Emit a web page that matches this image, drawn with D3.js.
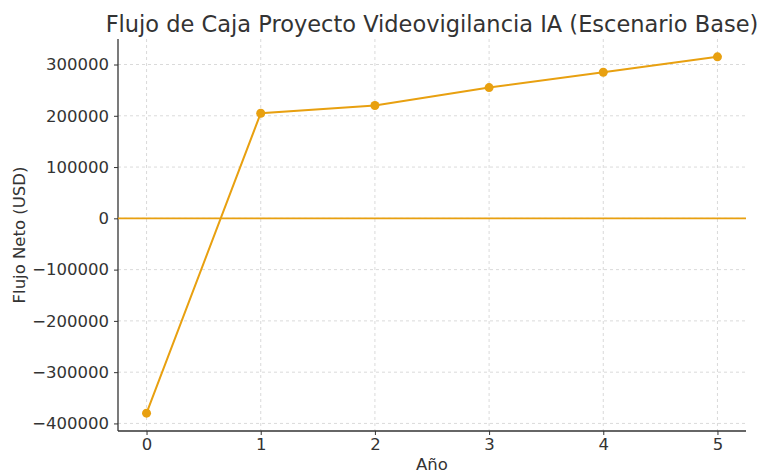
<!DOCTYPE html>
<html>
<head>
<meta charset="utf-8">
<script src="https://cdn.jsdelivr.net/npm/d3@7"></script>
<style>
  body { margin: 0; background: #fff; }
  text { font-family: "DejaVu Sans", sans-serif; fill: #333; }
</style>
</head>
<body>
<script>
const years = [0, 1, 2, 3, 4, 5]
const flujo = [-380000, 205000, 220000, 255000, 285000, 315000]
const yTicks = [-400000, -300000, -200000, -100000, 0, 100000, 200000, 300000]

const width = 760
const height = 473
const margin = { top: 39, right: 14, bottom: 42, left: 118 }
const color = '#e8a010'

const svg = d3.select('body').append('svg')
  .attr('width', width).attr('height', height)

const x = d3.scaleLinear().domain([-0.25, 5.25]).range([margin.left, width - margin.right])
const yPad = (d3.max(flujo) - d3.min(flujo)) * 0.05
const y = d3.scaleLinear()
  .domain([d3.min(flujo) - yPad, d3.max(flujo) + yPad])
  .range([height - margin.bottom, margin.top])

// grid
const grid = svg.append('g')
grid.selectAll('.gx').data(years).join('line')
  .attr('x1', d => x(d)).attr('x2', d => x(d))
  .attr('y1', margin.top).attr('y2', height - margin.bottom)
  .attr('stroke', '#d0d0d0').attr('stroke-dasharray', '3,3').attr('stroke-width', 0.8)
grid.selectAll('.gy').data(yTicks).join('line')
  .attr('x1', margin.left).attr('x2', width - margin.right)
  .attr('y1', d => y(d)).attr('y2', d => y(d))
  .attr('stroke', '#d0d0d0').attr('stroke-dasharray', '3,3').attr('stroke-width', 0.8)

// axes
const xAxis = svg.append('g')
  .attr('transform', `translate(0,${height - margin.bottom})`)
  .call(d3.axisBottom(x).tickValues(years).tickSize(4).tickPadding(3).tickFormat(d3.format('d')))
const yAxis = svg.append('g')
  .attr('transform', `translate(${margin.left},0)`)
  .call(d3.axisLeft(y).tickValues(yTicks).tickSize(4).tickPadding(5)
    .tickFormat(d => d < 0 ? '\u2212' + Math.abs(d) : String(d)))

for (const ax of [xAxis, yAxis]) {
  ax.select('.domain').attr('stroke', '#333').attr('stroke-width', 1.3)
  ax.selectAll('.tick line').attr('stroke', '#333')
  ax.selectAll('.tick text').attr('font-size', 16.5).attr('fill', '#333')
    .attr('font-family', '"DejaVu Sans", sans-serif')
}
xAxis.select('.domain').attr('d', `M${margin.left},0H${width - margin.right}`)
yAxis.select('.domain').attr('d', `M0,${margin.top}V${height - margin.bottom}`)

// zero line
svg.append('line')
  .attr('x1', margin.left).attr('x2', width - margin.right)
  .attr('y1', y(0)).attr('y2', y(0))
  .attr('stroke', color).attr('stroke-width', 1.8)

// series
const line = d3.line().x((d, i) => x(years[i])).y(d => y(d))
svg.append('path').datum(flujo)
  .attr('d', line).attr('fill', 'none')
  .attr('stroke', color).attr('stroke-width', 2)
svg.selectAll('.pt').data(flujo).join('circle')
  .attr('cx', (d, i) => x(years[i])).attr('cy', d => y(d))
  .attr('r', 4.5).attr('fill', color)

// labels
svg.append('text')
  .attr('x', (margin.left + width - margin.right) / 2).attr('y', 32)
  .attr('text-anchor', 'middle').attr('font-size', 22.5)
  .text('Flujo de Caja Proyecto Videovigilancia IA (Escenario Base)')
svg.append('text')
  .attr('x', (margin.left + width - margin.right) / 2).attr('y', 470)
  .attr('text-anchor', 'middle').attr('font-size', 16.5)
  .text('Año')
svg.append('text')
  .attr('transform', `translate(25,${(margin.top + height - margin.bottom) / 2}) rotate(-90)`)
  .attr('text-anchor', 'middle').attr('font-size', 16.5)
  .text('Flujo Neto (USD)')
</script>
</body>
</html>
